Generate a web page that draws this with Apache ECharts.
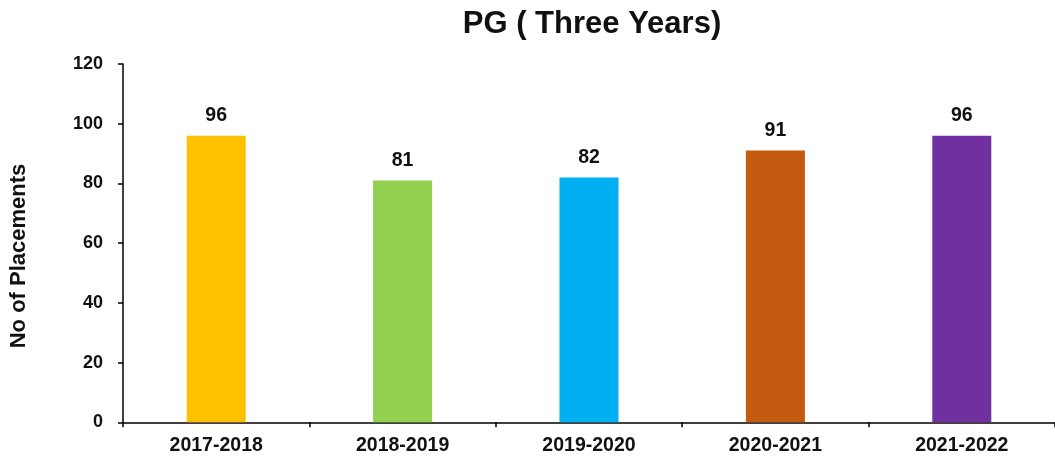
<!DOCTYPE html>
<html>
<head>
<meta charset="utf-8">
<script src="https://cdn.jsdelivr.net/npm/echarts@6/dist/echarts.min.js"></script>
<style>
html,body{margin:0;padding:0;background:#fff;}
#chart{width:1055px;height:462px;}
</style>
</head>
<body>
<div id="chart"></div>
<script>
const categories = ['2017-2018', '2018-2019', '2019-2020', '2020-2021', '2021-2022'];
const placements = [96, 81, 82, 91, 96];
const barColors = ['#FFC000', '#92D050', '#00B0F0', '#C55A11', '#7030A0'];
const yTicks = { min: 0, max: 120, interval: 20 };
const titleText = 'PG ( Three Years)';
const yAxisName = 'No of Placements';

const FONT = '"Liberation Sans", Arial, sans-serif';
const chart = echarts.init(document.getElementById('chart'));
chart.setOption({
  backgroundColor: '#ffffff',
  animation: false,
  graphic: [
    {
      type: 'text', x: 592, y: 24,
      style: { text: titleText, font: 'bold 31px ' + FONT, fill: '#111', align: 'center', verticalAlign: 'middle' }
    },
    {
      type: 'text', x: 19, y: 256, rotation: Math.PI / 2,
      style: { text: yAxisName, font: 'bold 22px ' + FONT, fill: '#111', align: 'center', verticalAlign: 'middle' }
    }
  ],
  grid: { left: 123, top: 64, width: 937.5, height: 358.3, containLabel: false },
  xAxis: {
    type: 'category',
    data: categories,
    boundaryGap: true,
    axisLine: { lineStyle: { color: '#000', width: 1.5 } },
    axisTick: { show: true, alignWithLabel: false, length: 5, lineStyle: { color: '#000', width: 1.5 } },
    axisLabel: { margin: 13, color: '#111', fontSize: 19.5, fontWeight: 'bold', fontFamily: FONT },
    splitLine: { show: false }
  },
  yAxis: {
    type: 'value',
    min: yTicks.min, max: yTicks.max, interval: yTicks.interval,
    axisLine: { show: true, lineStyle: { color: '#000', width: 1.5 } },
    axisTick: { show: true, length: 5, lineStyle: { color: '#000', width: 1.5 } },
    axisLabel: { margin: 20, color: '#111', fontSize: 18, fontWeight: 'bold', fontFamily: FONT },
    splitLine: { show: false }
  },
  series: [{
    type: 'bar',
    data: placements.map((v, i) => ({ value: v, itemStyle: { color: barColors[i] } })),
    barWidth: 59,
    label: { show: true, position: 'top', distance: 10, color: '#111', fontSize: 19.5, fontWeight: 'bold', fontFamily: FONT }
  }]
});
</script>
</body>
</html>
